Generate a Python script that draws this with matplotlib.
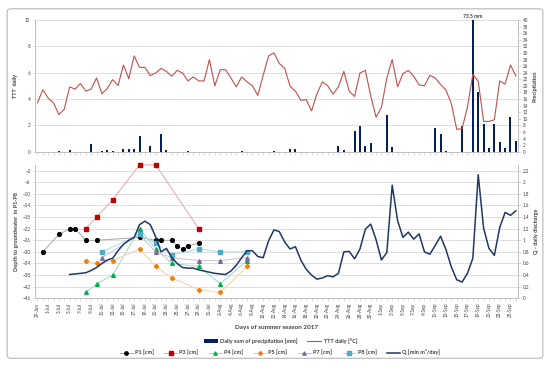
import numpy as np
import pandas as pd
import matplotlib
matplotlib.use('Agg')
import matplotlib.pyplot as plt
from matplotlib.patches import FancyBboxPatch

plt.rcParams['font.family'] = ['Lato', 'DejaVu Sans']

# Season: 29 Jun - 26 Sep 2017, day index 0..89
dates = pd.date_range('2017-06-29', periods=90)
day = np.arange(len(dates))

# Daily mean air temperature [degC]
ttt = [14.8, 18.8, 16.3, 14.8, 11.3, 12.9, 19.7, 19.0, 20.7, 18.4,
       19.0, 22.4, 17.6, 19.2, 21.9, 20.1, 26.3, 22.2, 29.1, 25.6,
       25.6, 23.1, 23.9, 25.3, 24.4, 22.9, 24.7, 23.9, 21.5, 22.7,
       21.5, 21.5, 28.0, 20.0, 24.9, 24.9, 22.4, 19.7, 22.7, 21.2,
       20.0, 17.1, 23.2, 29.1, 30.0, 26.8, 25.3, 19.9, 18.4, 15.6,
       15.8, 12.4, 17.6, 21.2, 20.0, 17.5, 19.7, 24.4, 18.4, 16.8,
       23.9, 24.7, 17.0, 10.5, 13.5, 22.4, 28.0, 19.7, 23.7, 24.7,
       22.9, 20.3, 20.0, 23.2, 22.4, 20.4, 18.7, 14.6, 6.8, 7.0,
       13.6, 23.5, 21.4, 9.2, 9.2, 9.7, 21.5, 20.5, 26.3, 23.0]

# Daily precipitation [mm]
precip = [0, 0, 0, 0, 0.2, 0, 0.4, 0, 0, 0,
          2.2, 0, 0.2, 0.6, 0.2, 0, 0.8, 0.7, 0.8, 4.9,
          0, 1.8, 0, 5.5, 0.5, 0, 0, 0, 0.3, 0,
          0, 0, 0, 0, 0, 0, 0, 0, 0.3, 0,
          0, 0, 0, 0, 0.1, 0, 0, 0.7, 0.9, 0,
          0, 0, 0, 0, 0, 0, 1.6, 0.5, 0, 6.3,
          7.7, 1.7, 2.5, 0, 0, 11.2, 1.3, 0, 0, 0,
          0, 0, 0, 0, 7.1, 5.3, 0.3, 0, 0, 7.8,
          0, 73.5, 18.1, 8.5, 1.2, 8.4, 3.0, 1.1, 10.4, 3.1]

# Daily discharge Q [mln m3/day], from 5 Jul
q_start = 6
q = [0.41, 0.42, 0.43, 0.44, 0.48, 0.53, 0.60, 0.66, 0.69, 0.82,
     0.93, 1.00, 1.05, 1.27, 1.33, 1.27, 1.06, 0.80, 0.86, 0.70,
     0.60, 0.53, 0.52, 0.52, 0.49, 0.47, 0.45, 0.43, 0.42, 0.41,
     0.47, 0.57, 0.70, 0.82, 0.82, 0.72, 0.70, 0.99, 1.18, 1.15,
     0.97, 0.85, 0.89, 0.66, 0.50, 0.40, 0.33, 0.35, 0.39, 0.37,
     0.43, 0.80, 0.81, 0.68, 0.85, 1.19, 1.28, 1.01, 0.66, 0.79,
     1.95, 1.34, 1.05, 1.14, 1.02, 1.11, 0.80, 0.76, 0.91, 1.07,
     0.84, 0.54, 0.32, 0.28, 0.43, 0.69, 2.13, 1.21, 0.86, 0.74,
     1.22, 1.48, 1.43, 1.51]

# Depth to groundwater in piezometers [cm]
p1_days = [1, 4, 6, 7, 9, 11, 19, 22, 23, 25, 26, 27, 28, 30]
p1 = [-30, -24, -22, -22, -26, -26, -25, -26, -26, -26, -28, -29, -28, -27]
p3_days = [9, 11, 14, 19, 22, 30]
p3 = [-22, -18, -12, 0, 0, -22]
p45_days = [9, 11, 14, 19, 22, 25, 30, 34, 39]
p4 = [-44, -41, -38, -22, -29, -34, -35, -41, -33]
p5 = [-33, -34, -33, -29, -35, -39, -43, -44, -35]
p78_days = [12, 19, 22, 25, 30, 34, 39]
p7 = [-32, -24, -30, -32, -33, -33, -32]
p8 = [-30, -24, -27, -31, -29, -30, -30]

tick_labels = [f"{d.day}-{d.strftime('%b')}" for d in dates[::2]]

grid_c = '#D9D9D9'
axis_c = '#BFBFBF'
txt_c = '#404040'
navy = '#002060'

fig = plt.figure(figsize=(5.5, 3.66), dpi=100)
fig.patches.append(FancyBboxPatch((0.013, 0.021), 0.974, 0.955,
                                  boxstyle='round,pad=0,rounding_size=0.008',
                                  transform=fig.transFigure, fc='white',
                                  ec=axis_c, lw=0.9, zorder=-10))


def style_axes(ax):
    ax.spines['top'].set_visible(False)
    for s in ['left', 'right', 'bottom']:
        ax.spines[s].set_color(axis_c)
        ax.spines[s].set_linewidth(0.6)
    ax.tick_params(axis='both', which='both', length=1.8, width=0.4,
                   color=axis_c, labelsize=3.3, labelcolor=txt_c, pad=1.5)
    ax.patch.set_alpha(0)


# ---- top panel: temperature + precipitation
ax1 = fig.add_axes([0.0636, 0.5855, 0.8787, 0.3599])
ax1r = ax1.twinx()
for a in (ax1, ax1r):
    style_axes(a)
ax1.set_xlim(-0.45, 89.45)
ax1.set_xticks(day)
ax1.tick_params(axis='x', labelbottom=False)
ax1.set_ylim(0, 10)
ax1.set_yticks(range(0, 11, 2))
ax1.grid(axis='y', color=grid_c, lw=0.6)
ax1.set_axisbelow(True)
ax1.set_ylabel('TTT  daily', fontsize=4, fontweight='bold', color=txt_c, labelpad=5)

ax1r.set_ylim(0, 40)
ax1r.set_yticks(range(0, 41, 2))
bars = ax1r.bar(day, precip, width=0.38, color=navy, zorder=2,
                label='Daily sum of precipitation [mm]')
ttt_line, = ax1r.plot(day, ttt, color='#C0504D', lw=0.8, zorder=3,
                      label='TTT daily [°C]')
ax1r.text(day[int(np.argmax(precip))], 40.3, f'{max(precip)} mm',
          ha='center', va='bottom', fontsize=3.6, fontweight='bold',
          color=txt_c)
ax1r.set_ylabel('Precipitation', fontsize=4, fontweight='bold',
                color=txt_c, labelpad=3)

# ---- bottom panel: groundwater depth + discharge
ax2 = fig.add_axes([0.0636, 0.185, 0.8787, 0.3645])
ax2r = ax2.twinx()
for a in (ax2, ax2r):
    style_axes(a)
ax2.set_xlim(-0.45, 89.45)
ax2.set_xticks(day[::2])
ax2.set_xticks(day, minor=True)
ax2.set_xticklabels(tick_labels, rotation=90)
ax2.set_ylim(-46, 0)
ax2.set_yticks(range(-46, 0, 4))
ax2.grid(axis='y', color=grid_c, lw=0.6)
ax2.set_axisbelow(True)
ax2.set_ylabel('Depth to groundwater  in P1-P8', fontsize=4,
               fontweight='bold', color=txt_c, labelpad=2)
ax2.set_xlabel('Days of summer season 2017', fontsize=4.6,
               fontweight='bold', color=txt_c, labelpad=5)

q_ticks = np.round(np.arange(0, 2.21, 0.2), 1)
ax2r.set_ylim(0, 2.3)
ax2r.set_yticks(q_ticks)
ax2r.set_yticklabels([f'{v:g}' for v in q_ticks])
ax2r.set_ylabel('Q - daily discharge', fontsize=4, fontweight='bold',
                color=txt_c, labelpad=3)

mk = dict(lw=0.7, ms=2.7, clip_on=False, zorder=4)
h_p1, = ax2.plot(p1_days, p1, color='#A6A6A6', marker='o', mfc='black',
                 mec='black', label='P1 [cm]', **mk)
h_p3, = ax2.plot(p3_days, p3, color='#E6A5A5', marker='s', mfc='#C00000',
                 mec='#C00000', label='P3 [cm]', **mk)
h_p4, = ax2.plot(p45_days, p4, color='#9ED8CC', marker='^', mfc='#00B050',
                 mec='#00B050', label='P4 [cm]', **mk)
h_p5, = ax2.plot(p45_days, p5, color='#F6CFA6', marker='P', mfc='#F07F09',
                 mec='#F07F09', label='P5 [cm]', **mk)
h_p7, = ax2.plot(p78_days, p7, color='#C9BFD6', marker='^', mfc='#7F6A9E',
                 mec='#7F6A9E', label='P7 [cm]', **mk)
h_p8, = ax2.plot(p78_days, p8, color='#A9DDE8', marker='s', mfc='#4BACC6',
                 mec='#4BACC6', label='P8 [cm]', **mk)
h_q, = ax2r.plot(day[q_start:q_start + len(q)], q, color='#1F3864', lw=1.1,
                 zorder=3, label='Q [mln m³/day]')

leg_font = dict(size=4, weight='bold')
leg1 = fig.legend(handles=[bars, ttt_line], loc='center',
                  bbox_to_anchor=(0.51, 0.069), ncol=2, frameon=False,
                  prop=leg_font, handlelength=2.6, columnspacing=1.6,
                  handletextpad=0.4)
for t in leg1.get_texts():
    t.set_color(txt_c)
leg2 = fig.legend(handles=[h_p1, h_p3, h_p4, h_p5, h_p7, h_p8, h_q],
                  loc='center', bbox_to_anchor=(0.509, 0.037), ncol=7,
                  frameon=False, prop=leg_font, handlelength=2.3,
                  columnspacing=1.9, handletextpad=0.4, markerscale=0.9)
for t in leg2.get_texts():
    t.set_color(txt_c)

fig.savefig('out.png', dpi=100)
